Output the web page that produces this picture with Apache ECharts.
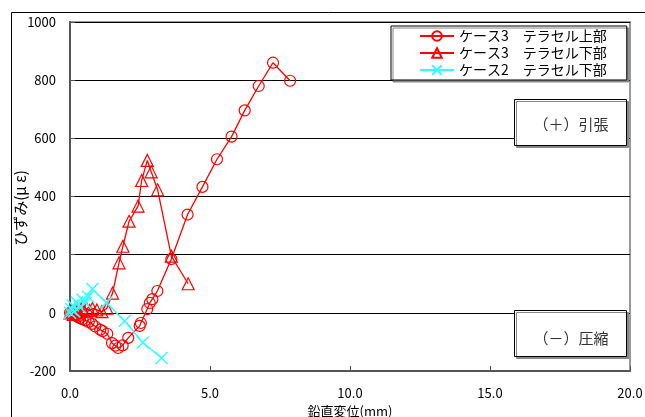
<!DOCTYPE html>
<html>
<head>
<meta charset="utf-8">
<script src="https://cdn.jsdelivr.net/npm/echarts@6/dist/echarts.min.js"></script>
<style>
    html,body{margin:0;padding:0;background:#fff;}
    #chart{width:645px;height:417px;}
</style>
</head>
<body>
<div id="chart"></div>
<script>
// ケース3 テラセル上部 (○)
const upperX = [0, 0.05, 0.1, 0.15, 0.2, 0.28, 0.36, 0.45, 0.55, 0.67, 0.79, 0.9, 1.08, 1.17, 1.33, 1.5, 1.62, 1.72, 1.88, 2.08, 2.49, 2.53, 2.76, 2.85, 2.94, 3.12, 3.62, 4.2, 4.73, 5.25, 5.77, 6.24, 6.74, 7.25, 7.86];
const upperY = [0, -2, -5, -7, -10, -14, -18, -22, -26, -31, -38, -47, -58, -63, -72, -104, -113, -121, -112, -86, -45, -35, 13, 34, 47, 75, 185, 338, 433, 528, 606, 696, 780, 860, 798];
// ケース3 テラセル下部 (△)
const lowerX = [0, 0.05, 0.12, 0.2, 0.3, 0.4, 0.5, 0.6, 0.7, 0.8, 0.96, 1.14, 1.32, 1.52, 1.75, 1.89, 2.11, 2.43, 2.56, 2.76, 2.9, 3.13, 3.62, 4.22];
const lowerY = [0, 5, -5, 8, 3, 12, 6, 14, 8, 15, 10, 4, 16, 68, 172, 229, 315, 367, 455, 524, 485, 423, 195, 100];
// ケース2 テラセル下部 (×)
const case2X = [0, 0.05, 0.1, 0.15, 0.25, 0.35, 0.45, 0.55, 0.65, 0.8, 1.3, 1.95, 2.6, 3.27];
const case2Y = [0, 12, 25, 5, 35, 20, 45, 35, 55, 82, 35, -28, -102, -155];

const seriesNames = ['ケース3　テラセル上部', 'ケース3　テラセル下部', 'ケース2　テラセル下部'];
const xTicks = [0, 5, 10, 15, 20];
const yTicks = [-200, 0, 200, 400, 600, 800, 1000];

const zip = (xs, ys) => xs.map((x, i) => [x, ys[i]]);
const font = '"Noto Sans CJK JP", sans-serif';

let myChart = echarts.init(document.getElementById('chart'));
myChart.setOption({
    animation: false,
    backgroundColor: '#fff',
    textStyle: {fontFamily: font},
    grid: {
        left: 70, right: 15, top: 22, bottom: 46,
        outerBoundsMode: 'none',
        containLabel: false,
        show: true,
        borderColor: '#999',
        borderWidth: 2
    },
    legend: {
        orient: 'vertical',
        left: 391, top: 26,
        padding: [3, 20, 3, 28],
        itemGap: 3,
        itemWidth: 34, itemHeight: 12,
        backgroundColor: '#fff',
        borderColor: '#000',
        borderWidth: 1,
        shadowColor: '#888',
        shadowOffsetX: 2, shadowOffsetY: 2,
        textStyle: {fontSize: 14, color: '#000', fontFamily: font},
        data: seriesNames
    },
    xAxis: {
        type: 'value',
        min: xTicks[0], max: xTicks[xTicks.length - 1], interval: 5,
        name: '鉛直変位(mm)',
        nameLocation: 'middle',
        nameGap: 31,
        nameTextStyle: {fontSize: 13, color: '#000', fontFamily: font},
        axisLine: {onZero: false, lineStyle: {color: '#555', width: 2}},
        axisTick: {inside: true, length: 5, lineStyle: {color: '#555'}},
        axisLabel: {fontSize: 13, color: '#000', margin: 16, formatter: v => v.toFixed(1)},
        splitLine: {show: false}
    },
    yAxis: {
        type: 'value',
        min: yTicks[0], max: yTicks[yTicks.length - 1], interval: 200,
        axisLine: {onZero: false, lineStyle: {color: '#555', width: 2}},
        axisTick: {inside: true, length: 5, lineStyle: {color: '#555'}},
        axisLabel: {fontSize: 13, color: '#000', margin: 14, formatter: v => String(v)},
        splitLine: {show: true, lineStyle: {color: '#000', width: 1}}
    },
    graphic: [
        // outer frame
        {type: 'rect', left: 9, top: 10, z: -10, silent: true,
            shape: {width: 700, height: 500},
            style: {fill: 'none', stroke: '#000', lineWidth: 1}},
        // y axis name
        {type: 'text', x: 13, y: 208, rotation: Math.PI / 2, z: 10,
            style: {text: 'ひずみ(μ ε)', font: '15px ' + font, fill: '#000',
                align: 'center', verticalAlign: 'top'}},
        // annotation boxes
        {type: 'rect', left: 514, top: 99, z: 10,
            shape: {width: 112, height: 46},
            style: {fill: '#fff', stroke: '#000', lineWidth: 1,
                shadowColor: '#888', shadowOffsetX: 2, shadowOffsetY: 2}},
        {type: 'text', x: 571, y: 124, z: 11,
            style: {text: '（＋）引張', font: '15px ' + font, fill: '#333',
                align: 'center', verticalAlign: 'middle'}},
        {type: 'rect', left: 514, top: 310, z: 10,
            shape: {width: 112, height: 46},
            style: {fill: '#fff', stroke: '#000', lineWidth: 1,
                shadowColor: '#888', shadowOffsetX: 2, shadowOffsetY: 2}},
        {type: 'text', x: 571, y: 338, z: 11,
            style: {text: '（－）圧縮', font: '15px ' + font, fill: '#333',
                align: 'center', verticalAlign: 'middle'}}
    ],
    series: [
        {
            name: seriesNames[0],
            type: 'line',
            data: zip(upperX, upperY),
            symbol: 'circle',
            symbolSize: 11,
            lineStyle: {color: '#ff0000', width: 1.3},
            itemStyle: {color: 'rgba(255,255,255,0)', borderColor: '#ff0000', borderWidth: 1.2}
        },
        {
            name: seriesNames[1],
            type: 'line',
            data: zip(lowerX, lowerY),
            symbol: 'triangle',
            symbolSize: 12,
            lineStyle: {color: '#ff0000', width: 1.3},
            itemStyle: {color: 'rgba(255,255,255,0)', borderColor: '#ff0000', borderWidth: 1.2}
        },
        {
            name: seriesNames[2],
            type: 'line',
            data: zip(case2X, case2Y),
            symbol: 'path://M0,0L10,10M10,0L0,10',
            symbolSize: 12,
            lineStyle: {color: '#33ffff', width: 1.5},
            itemStyle: {color: '#33ffff', borderColor: '#33ffff', borderWidth: 1.5}
        }
    ]
});
</script>
</body>
</html>
